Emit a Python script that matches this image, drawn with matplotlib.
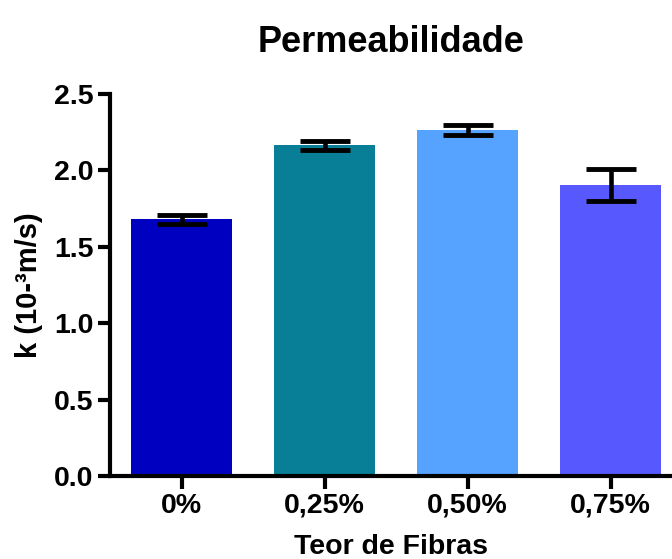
import matplotlib.pyplot as plt

plt.rcParams['font.family'] = ['Liberation Sans', 'DejaVu Sans']

categories = ['0%', '0,25%', '0,50%', '0,75%']
means = [1.68, 2.163, 2.265, 1.905]
errors = [0.03, 0.03, 0.033, 0.105]
colors = ['#0000C0', '#087F96', '#56A2FF', '#5858FF']

fig = plt.figure(figsize=(6.72, 5.59), dpi=100)
ax = fig.add_axes([110/672, 83/559, 1 - 110/672, 382/559])

x = range(len(categories))
ax.bar(x, means, width=0.7, color=colors, zorder=2)
ax.errorbar(x, means, yerr=errors, fmt='none', ecolor='black',
            elinewidth=3.3, capsize=18, capthick=3.5, zorder=3)

ax.set_xlim(-0.5, 3.43)
ax.set_ylim(0, 2.5)
ax.set_yticks([0.0, 0.5, 1.0, 1.5, 2.0, 2.5])
ax.set_yticklabels(['0.0', '0.5', '1.0', '1.5', '2.0', '2.5'])
ax.set_xticks(list(x))
ax.set_xticklabels(categories)

for side in ['top', 'right']:
    ax.spines[side].set_visible(False)
for side in ['left', 'bottom']:
    ax.spines[side].set_linewidth(3)
ax.tick_params(axis='both', width=3, length=9, labelsize=20.5, pad=3)
for lbl in ax.get_xticklabels() + ax.get_yticklabels():
    lbl.set_fontweight('bold')

ax.set_ylabel('k (10-³m/s)', fontsize=21, fontweight='bold', labelpad=8)
ax.set_xlabel('Teor de Fibras', fontsize=20.5, fontweight='bold', labelpad=11)
ax.set_title('Permeabilidade', fontsize=26, fontweight='bold', pad=30)

plt.savefig('out.png', dpi=100)
